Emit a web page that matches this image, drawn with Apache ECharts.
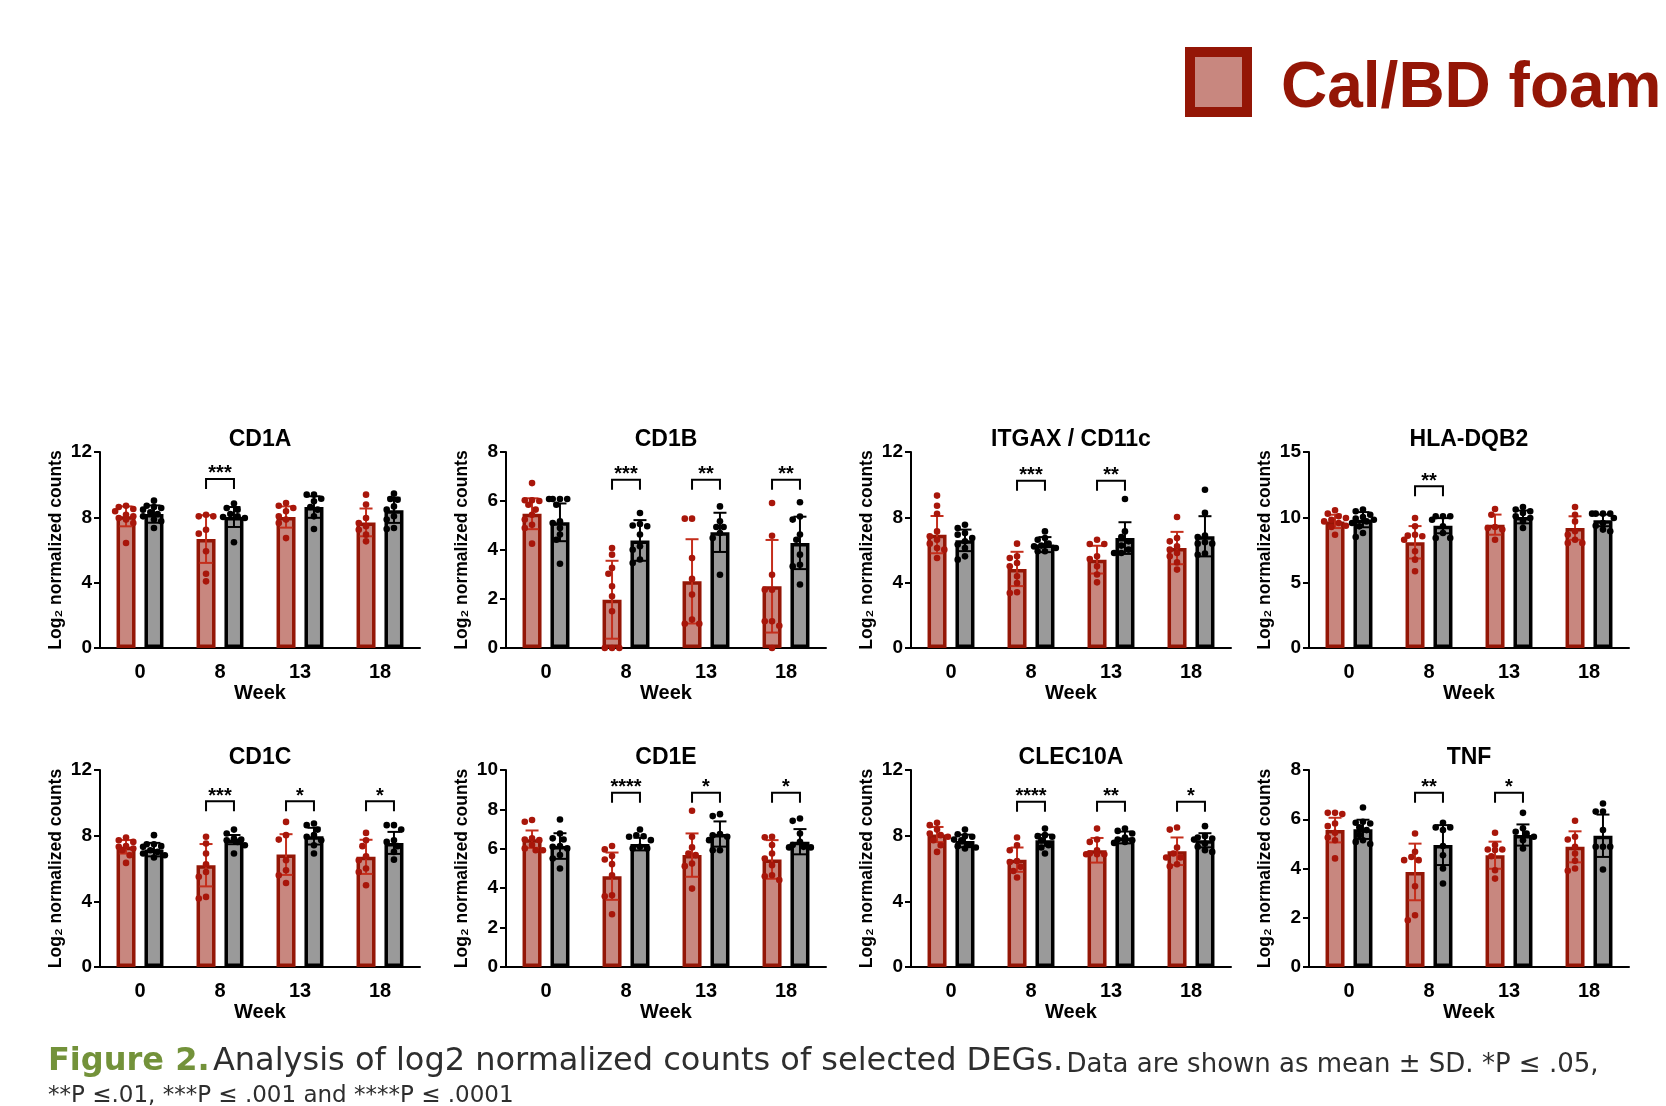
<!DOCTYPE html>
<html><head><meta charset="utf-8">
<script src="https://cdn.jsdelivr.net/npm/echarts@6/dist/echarts.min.js"></script>
<style>html,body{margin:0;padding:0;background:#fff}#c{width:1666px;height:1106px}</style>
</head><body><div id="c"></div>
<script>
// ---------------- DATA ----------------
const weeks = ['0', '8', '13', '18'];
const genes = ['CD1A', 'CD1B', 'ITGAX / CD11c', 'HLA-DQB2', 'CD1C', 'CD1E', 'CLEC10A', 'TNF'];
const yMax  = [12, 8, 12, 15, 12, 10, 12, 8];
const yStep = [4, 2, 4, 5, 4, 2, 4, 2];

// Cal/BD foam group: mean and SD per week
const calMean = [
  [8.06, 6.67, 8.02, 7.69], [5.48, 1.97, 2.72, 2.52], [6.94, 4.84, 5.41, 6.12], [9.69, 8.09, 9.44, 9.18],
  [7.32, 6.20, 6.85, 6.71], [6.49, 4.61, 5.68, 5.46], [8.07, 6.54, 7.11, 7.05], [5.56, 3.86, 4.54, 4.88]
];
const calSD = [
  [0.61, 1.46, 0.65, 0.85], [0.63, 1.59, 1.72, 1.89], [1.14, 1.05, 0.85, 0.99], [0.51, 1.24, 0.77, 0.90],
  [0.41, 1.29, 1.24, 1.04], [0.44, 1.20, 1.10, 0.98], [0.46, 0.74, 0.75, 0.84], [0.50, 1.15, 0.55, 0.63]
];
// Control group: mean and SD per week
const ctrlMean = [
  [8.20, 8.02, 8.63, 8.43], [5.13, 4.39, 4.72, 4.29], [6.59, 6.33, 6.73, 6.84], [9.82, 9.36, 10.03, 9.77],
  [7.15, 7.76, 7.97, 7.56], [6.14, 6.24, 6.75, 6.36], [7.68, 7.72, 7.89, 7.72], [5.59, 4.95, 5.36, 5.33]
];
const ctrlSD = [
  [0.53, 0.61, 0.66, 0.77], [0.77, 0.83, 0.80, 1.07], [0.66, 0.46, 0.97, 1.23], [0.58, 0.58, 0.49, 0.45],
  [0.41, 0.28, 0.51, 0.67], [0.65, 0.32, 0.64, 0.64], [0.38, 0.34, 0.36, 0.43], [0.39, 0.81, 0.43, 0.86]
];

// individual samples (per week: 0, 8, 13, 18)
const cd1aCal = [[8.71,8.63,8.51,8.37,8.16,8.06,7.96,7.86,7.65,6.43],[8.16,8.06,8.06,7.24,7.0,5.92,4.55,4.08],[8.88,8.71,8.57,8.37,8.06,7.86,7.65,6.73],[9.39,8.78,7.96,7.65,7.45,7.24,6.94,6.53]];
const cd1aCtrl = [[9.02,8.71,8.63,8.57,8.47,8.31,8.2,8.06,7.86,7.76,7.35],[8.84,8.57,8.47,8.2,8.06,8.02,7.96,6.47],[9.39,9.39,9.14,8.98,8.63,8.47,8.06,7.29],[9.45,9.12,9.08,8.67,8.47,8.06,7.86,7.35,7.29]];
const cd1bCal = [[6.73,6.03,6.03,6.0,5.85,5.65,5.44,5.24,5.03,4.9,4.26],[4.08,3.81,3.27,3.03,2.52,2.11,1.5,0,0,0],[5.28,5.28,3.67,2.82,2.18,1.16,0.99,0.99],[5.92,4.58,2.99,2.38,2.38,1.09,1.09,0.91,0]];
const cd1bCtrl = [[6.08,6.08,6.08,6.08,5.85,5.17,5.1,4.9,4.63,4.42,3.44],[5.51,5.06,5.0,4.97,4.63,4.15,4.01,3.61,3.47],[5.78,5.17,4.94,4.94,4.69,4.49,2.99],[5.95,5.37,5.24,4.63,4.42,3.81,3.4,3.33,2.59]];
const itgaxCal = [[9.33,8.71,8.22,7.14,6.84,6.63,6.39,6.12,6.02,5.51],[6.39,5.61,5.51,5.2,5.0,4.39,3.98,3.41,3.37],[6.63,6.37,6.37,5.61,5.45,5.0,4.5,4.02],[8.02,6.73,6.53,6.22,6.02,5.82,5.61,5.24,4.8]];
const itgaxCtrl = [[7.55,7.35,7.04,6.94,6.73,6.53,6.33,6.12,5.61,5.41],[7.14,6.73,6.63,6.39,6.27,6.22,6.12,5.92,5.92],[9.12,7.14,6.8,6.53,6.27,6.02,5.82,5.82],[9.69,8.27,6.88,6.8,6.47,6.39,6.39,5.78,5.71]];
const hlaCal = [[10.54,10.28,10.08,9.95,9.82,9.69,9.57,9.36,9.26,8.67],[9.95,9.31,8.67,8.6,8.55,8.29,7.4,6.76,5.87],[10.64,10.2,9.26,9.18,9.06,8.29],[10.79,10.2,9.69,8.93,8.67,8.29,8.04,8.04]];
const hlaCtrl = [[10.59,10.46,10.2,10.03,9.9,9.82,9.69,9.57,9.31,8.8,8.49],[10.08,10.08,10.08,9.82,9.31,8.8,8.42,8.42],[10.79,10.59,10.46,10.33,10.08,9.95,9.69,9.18],[10.28,10.28,10.28,10.28,9.95,9.57,9.36,9.06,8.93]];
const cd1cCal = [[7.89,7.72,7.62,7.36,7.32,7.22,7.11,6.81,6.34],[7.93,7.52,6.91,6.26,5.79,5.49,4.27,4.17],[8.84,8.03,7.76,6.5,5.89,5.59,5.12],[8.17,7.72,7.36,6.75,6.5,6.0,5.79,4.98]];
const cd1cCtrl = [[8.03,7.48,7.48,7.36,7.32,7.11,7.01,6.91,6.81,6.67],[8.37,8.13,7.83,7.76,7.72,7.62,7.42,6.91],[8.74,8.64,8.37,8.03,7.93,7.72,7.42,6.91],[8.64,8.64,8.37,7.72,7.62,7.36,7.01,6.54]];
const cd1eCal = [[7.46,7.37,6.53,6.47,6.44,6.19,6.02,5.93,5.93],[6.14,5.97,5.63,5.46,5.22,4.66,3.64,3.59,2.68],[7.93,6.61,6.07,5.76,5.68,5.25,5.12,3.98],[6.61,6.58,6.19,5.76,5.51,5.17,4.66,4.61,4.41]];
const cd1eCtrl = [[7.49,6.78,6.53,6.47,6.14,6.1,6.02,5.68,5.51,5.0],[6.98,6.69,6.64,6.61,6.44,6.1,6.02,6.02],[7.76,7.66,6.75,6.69,6.61,6.44,5.93,5.93],[7.54,7.42,6.78,6.36,6.19,6.1,6.07,6.07]];
const clecCal = [[8.78,8.64,8.37,8.13,8.03,7.93,7.72,7.42,7.01],[7.89,7.42,7.11,6.46,6.4,6.1,5.85,5.45],[8.43,7.76,7.62,7.11,6.91,6.87,6.87,6.87],[8.5,8.37,7.28,6.91,6.67,6.67,6.26,6.14]];
const clecCtrl = [[8.37,8.09,7.97,7.93,7.76,7.72,7.48,7.36,7.28,7.22],[8.43,8.03,7.97,7.93,7.72,7.42,7.28,6.91],[8.43,8.29,8.13,7.89,7.76,7.72,7.62,7.56],[8.58,7.97,7.89,7.83,7.76,7.52,7.32,7.11,7.01]];
const tnfCal = [[6.26,6.26,6.21,5.83,5.72,5.45,5.26,5.15,4.41],[5.42,4.68,4.47,4.34,4.34,3.28,2.1,1.9],[5.45,4.95,4.77,4.77,4.75,4.5,3.93,3.59],[5.94,5.29,5.18,4.88,4.61,4.31,4.0,3.91]];
const tnfCtrl = [[6.48,5.9,5.86,5.83,5.67,5.56,5.36,5.15,5.08,4.99],[5.86,5.67,5.67,5.56,4.91,4.54,4.0,3.39],[6.26,5.63,5.49,5.42,5.29,5.15,4.81],[6.64,6.31,6.31,5.56,4.88,4.88,4.88,3.96]];

const calPoints  = [cd1aCal, cd1bCal, itgaxCal, hlaCal, cd1cCal, cd1eCal, clecCal, tnfCal];
const ctrlPoints = [cd1aCtrl, cd1bCtrl, itgaxCtrl, hlaCtrl, cd1cCtrl, cd1eCtrl, clecCtrl, tnfCtrl];

// significance (Cal/BD foam vs control) per week, and bracket level in axis units
const sigStars = [
  ['', '***', '', ''], ['', '***', '**', '**'], ['', '***', '**', ''], ['', '**', '', ''],
  ['', '***', '*', '*'], ['', '****', '*', '*'], ['', '****', '**', '*'], ['', '**', '*', '']
];
const sigLevel = [10.35, 6.87, 10.24, 12.37, 10.1, 8.85, 10.06, 7.08];

const legendLabel = 'Cal/BD foam';
const yName = 'Log\u2082 normalized counts';
const xName = 'Week';
const captionHead = 'Figure 2.';
const captionMain = 'Analysis of log2 normalized counts of selected DEGs.';
const captionNote1 = 'Data are shown as mean \u00b1 SD. *P \u2264 .05,';
const captionNote2 = '**P \u2264.01, ***P \u2264 .001 and ****P \u2264 .0001';

// ---------------- STYLE / LAYOUT ----------------
const FONT = "'Liberation Sans', Arial, Helvetica, sans-serif";
const CAP_FONT = "'DejaVu Sans', 'Open Sans', sans-serif";
const RED_FILL = '#c8877f', RED_LINE = '#941606', RED_DOT = '#a8160a', RED_ERR = '#c42e1c';
const GRAY_FILL = '#9a9a9a', BLACK = '#000000';
const BAR_W = 19, BAR_GAP = 0.47, BORDER = 3.5, DOT_R = 3.3, CAP_W = 6.5, SPREAD = 11;
const lefts = [100, 506, 911, 1309], tops = [452, 770], PW = 320, PH = [196, 197];

// simple beeswarm: horizontal offsets (px) so that dots of one group do not pile up
function swarm(ys, r) {
  const order = ys.map((y, i) => i).sort((a, b) => ys[a] - ys[b]);
  const placed = [], xs = new Array(ys.length);
  const minD = 2 * r * 0.95, step = r * 1.1;
  for (const i of order) {
    let best = 0, bestScore = -1;
    for (let k = 0; k < 40; k++) {
      const cand = k === 0 ? 0 : (k % 2 ? -1 : 1) * Math.ceil(k / 2) * step;
      if (Math.abs(cand) > SPREAD) break;
      const d = placed.reduce((m, p) => Math.min(m, Math.hypot(p[0] - cand, p[1] - ys[i])), Infinity);
      if (d >= minD) { best = cand; bestScore = Infinity; break; }
      if (d > bestScore) { bestScore = d; best = cand; }
    }
    xs[i] = best; placed.push([best, ys[i]]);
  }
  return xs;
}

const option = { animation: false, backgroundColor: '#fff', grid: [], xAxis: [], yAxis: [], series: [], graphic: [] };
const axisText = { color: BLACK, fontWeight: 'bold', fontFamily: FONT };
const off = BAR_W * (1 + BAR_GAP) / 2;

genes.forEach((gene, gi) => {
  const col = gi % 4, row = Math.floor(gi / 4);
  const L = lefts[col], T = tops[row];
  option.grid.push({ left: L, top: T, width: PW, height: PH[row] });
  option.xAxis.push({
    type: 'category', gridIndex: gi, data: weeks,
    axisLine: { lineStyle: { color: BLACK, width: 2 } },
    axisTick: { alignWithLabel: true, length: 6, lineStyle: { color: BLACK, width: 2 } },
    axisLabel: Object.assign({ fontSize: 20, margin: 14 }, axisText),
    name: xName, nameLocation: 'middle', nameGap: 35,
    nameTextStyle: Object.assign({ fontSize: 20 }, axisText)
  });
  option.yAxis.push({
    type: 'value', gridIndex: gi, min: 0, max: yMax[gi], interval: yStep[gi],
    splitLine: { show: false },
    axisLine: { show: true, lineStyle: { color: BLACK, width: 2 } },
    axisTick: { show: true, length: 6, lineStyle: { color: BLACK, width: 2 } },
    axisLabel: Object.assign({ fontSize: 19, margin: 8 }, axisText),
    name: yName, nameLocation: 'middle', nameGap: 35,
    nameTextStyle: Object.assign({ fontSize: 17.5 }, axisText)
  });
  option.series.push({
    type: 'bar', name: legendLabel, xAxisIndex: gi, yAxisIndex: gi, data: calMean[gi],
    barWidth: BAR_W, barGap: (BAR_GAP * 100) + '%', silent: true,
    itemStyle: { color: RED_FILL, borderColor: RED_LINE, borderWidth: BORDER }
  });
  option.series.push({
    type: 'bar', name: 'Control', xAxisIndex: gi, yAxisIndex: gi, data: ctrlMean[gi],
    barWidth: BAR_W, barGap: (BAR_GAP * 100) + '%', silent: true,
    itemStyle: { color: GRAY_FILL, borderColor: BLACK, borderWidth: BORDER }
  });
  // error bars (mean ± SD)
  option.series.push({
    type: 'custom', xAxisIndex: gi, yAxisIndex: gi, silent: true, z: 3,
    data: weeks.map((w, i) => [i, calMean[gi][i] + calSD[gi][i], ctrlMean[gi][i] + ctrlSD[gi][i]]),
    encode: { x: 0, y: [1, 2] },
    renderItem: (params, api) => {
      const i = api.value(0);
      const cx = api.coord([i, 0])[0];
      const children = [];
      [[calMean, calSD, RED_ERR, -1], [ctrlMean, ctrlSD, BLACK, 1]].forEach(([M, S, color, sgn]) => {
        const m = M[gi][i], s = S[gi][i];
        const x = cx + sgn * off;
        const yt = api.coord([i, m + s])[1], yb = api.coord([i, Math.max(0, m - s)])[1];
        const st = { stroke: color, lineWidth: 2 };
        children.push({ type: 'line', shape: { x1: x, y1: yt, x2: x, y2: yb }, style: st });
        children.push({ type: 'line', shape: { x1: x - CAP_W, y1: yt, x2: x + CAP_W, y2: yt }, style: st });
        children.push({ type: 'line', shape: { x1: x - CAP_W, y1: yb, x2: x + CAP_W, y2: yb }, style: st });
      });
      return { type: 'group', children };
    }
  });
  // individual points
  option.series.push({
    type: 'custom', xAxisIndex: gi, yAxisIndex: gi, silent: true, z: 4,
    data: weeks.map((w, i) => [i, Math.max(...calPoints[gi][i], ...ctrlPoints[gi][i])]),
    encode: { x: 0, y: 1 },
    renderItem: (params, api) => {
      const i = api.value(0);
      const cx = api.coord([i, 0])[0];
      const children = [];
      [[calPoints, RED_DOT, -1], [ctrlPoints, BLACK, 1]].forEach(([P, color, sgn]) => {
        const ys = P[gi][i].map(v => api.coord([i, v])[1]);
        const xs = swarm(ys, DOT_R);
        ys.forEach((y, k) => children.push({
          type: 'circle', shape: { cx: cx + sgn * off + xs[k], cy: y, r: DOT_R }, style: { fill: color }
        }));
      });
      return { type: 'group', children };
    }
  });
  // significance brackets
  option.series.push({
    type: 'custom', xAxisIndex: gi, yAxisIndex: gi, silent: true, z: 5,
    data: weeks.map((w, i) => [i, sigLevel[gi]]).filter((d, i) => sigStars[gi][i]),
    encode: { x: 0, y: 1 },
    renderItem: (params, api) => {
      const i = api.value(0);
      const p = api.coord([i, api.value(1)]);
      const x1 = p[0] - off, x2 = p[0] + off, y = p[1];
      return { type: 'group', children: [
        { type: 'polyline', shape: { points: [[x1, y + 10], [x1, y], [x2, y], [x2, y + 10]] },
          style: { stroke: BLACK, lineWidth: 2, fill: null } },
        { type: 'text', style: { text: sigStars[gi][i], x: p[0], y: y + 5, align: 'center', verticalAlign: 'bottom',
          font: 'bold 20px ' + FONT, fill: BLACK } }
      ] };
    }
  });
  // panel title
  option.graphic.push({
    type: 'text', x: L + PW / 2, y: T - 12, silent: true,
    style: { text: gene, align: 'center', verticalAlign: 'middle', font: 'bold 23px ' + FONT, fill: BLACK }
  });
});

// legend (only this entry is visible in the figure)
option.graphic.push({ type: 'rect', silent: true, shape: { x: 1190, y: 52, width: 57, height: 60 },
  style: { fill: RED_FILL, stroke: RED_LINE, lineWidth: 10 } });
option.graphic.push({ type: 'text', silent: true, x: 1281, y: 89,
  style: { text: legendLabel, font: 'bold 64px ' + FONT, fill: RED_LINE, align: 'left', verticalAlign: 'middle' } });

// caption
option.graphic.push({ type: 'text', silent: true, x: 48, y: 1078,
  style: {
    text: '{g|' + captionHead + '} {b|' + captionMain + '} {s|' + captionNote1 + '}',
    align: 'left', verticalAlign: 'bottom',
    rich: {
      g: { fontFamily: CAP_FONT, fontSize: 32, fontWeight: 'bold', fill: '#73923a', verticalAlign: 'bottom' },
      b: { fontFamily: CAP_FONT, fontSize: 32, fontWeight: 'normal', fill: '#2e2e2e', verticalAlign: 'bottom' },
      s: { fontFamily: CAP_FONT, fontSize: 26, fontWeight: 'normal', fill: '#2e2e2e', verticalAlign: 'bottom' }
    }
  } });
option.graphic.push({ type: 'text', silent: true, x: 48, y: 1096,
  style: { text: captionNote2, font: '23px ' + CAP_FONT, fill: '#2e2e2e', align: 'left', verticalAlign: 'middle' } });

const chart = echarts.init(document.getElementById('c'), null, { renderer: 'canvas' });
chart.setOption(option);
</script></body></html>
